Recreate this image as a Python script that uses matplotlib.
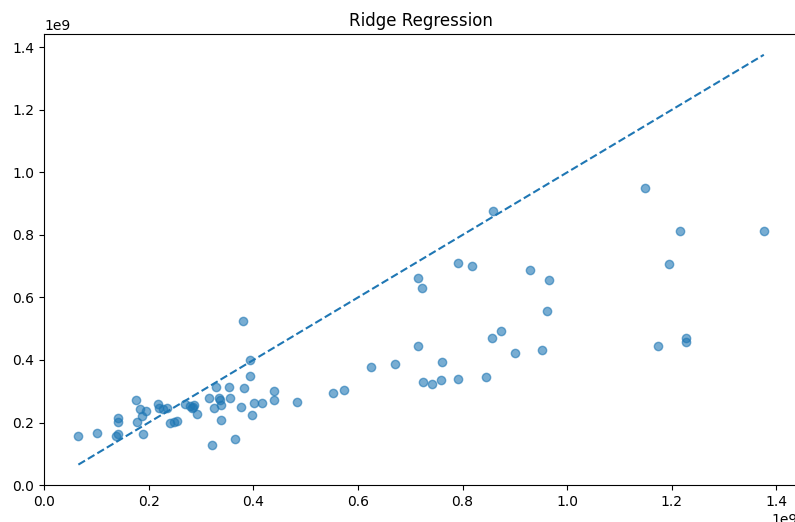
import numpy as np
import matplotlib.pyplot as plt

# Wartosci rzeczywiste (os x) i przewidywane przez model Ridge (os y), w 1e9
y_true = [0.0654, 0.101, 0.137, 0.141, 0.142, 0.142, 0.175, 0.177, 0.184, 0.188,
          0.194, 0.189, 0.217, 0.219, 0.235, 0.228, 0.241, 0.249, 0.254, 0.270,
          0.279, 0.283, 0.286, 0.285, 0.293, 0.315, 0.328, 0.324, 0.334, 0.337,
          0.338, 0.339, 0.353, 0.356, 0.320, 0.365, 0.376, 0.380, 0.393, 0.393,
          0.382, 0.402, 0.417, 0.398, 0.439, 0.440, 0.484, 0.553, 0.573, 0.624,
          0.670, 0.715, 0.722, 0.714, 0.724, 0.742, 0.758, 0.760, 0.791, 0.818,
          0.791, 0.844, 0.857, 0.873, 0.900, 0.928, 0.965, 0.961, 0.952, 0.858,
          1.149, 1.216, 1.376, 1.194, 1.173, 1.228, 1.228]
y_pred = [0.158, 0.168, 0.158, 0.163, 0.216, 0.201, 0.273, 0.201, 0.242, 0.222,
          0.236, 0.164, 0.259, 0.248, 0.247, 0.244, 0.198, 0.202, 0.205, 0.259,
          0.254, 0.246, 0.257, 0.249, 0.227, 0.277, 0.313, 0.246, 0.277, 0.273,
          0.257, 0.209, 0.312, 0.280, 0.128, 0.147, 0.251, 0.524, 0.401, 0.349,
          0.311, 0.261, 0.261, 0.225, 0.302, 0.271, 0.265, 0.295, 0.305, 0.376,
          0.387, 0.661, 0.630, 0.446, 0.329, 0.324, 0.337, 0.392, 0.709, 0.699,
          0.340, 0.346, 0.471, 0.493, 0.423, 0.689, 0.655, 0.558, 0.433, 0.875,
          0.951, 0.814, 0.814, 0.708, 0.446, 0.469, 0.459]

y_true = np.array(y_true) * 1e9
y_pred = np.array(y_pred) * 1e9

fig = plt.figure(figsize=(7.95, 5.22), dpi=100)
ax = fig.add_axes([44.1 / 795, 36.9 / 522, 754 / 795, 450.8 / 522])

ax.scatter(y_true, y_pred, alpha=0.6)
ax.plot([y_true.min(), y_true.max()], [y_true.min(), y_true.max()], '--')
ax.set_title('Ridge Regression')

plt.savefig('out.png')
